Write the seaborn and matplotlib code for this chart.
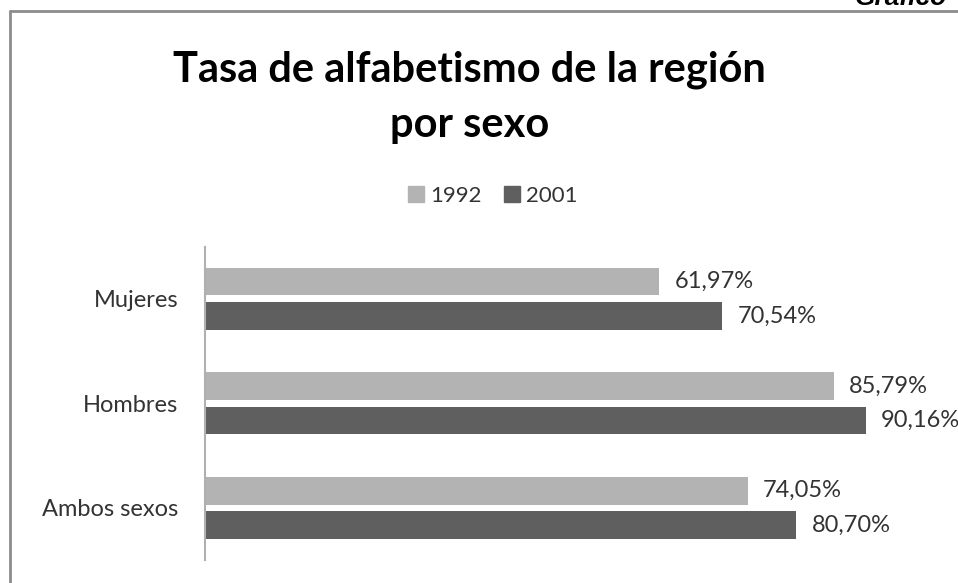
import numpy as np
import pandas as pd
import matplotlib.pyplot as plt
import seaborn as sns
from matplotlib.lines import Line2D

# data
categorias = ["Mujeres", "Hombres", "Ambos sexos"]
anios = ["1992", "2001"]
tasa_1992 = [61.97, 85.79, 74.05]
tasa_2001 = [70.54, 90.16, 80.70]

df = pd.DataFrame({
    "categoria": categorias * 2,
    "anio": [anios[0]] * 3 + [anios[1]] * 3,
    "tasa": tasa_1992 + tasa_2001,
})

sns.set_theme(style="white")
plt.rcParams["font.family"] = ["Lato", "DejaVu Sans"]

fig = plt.figure(figsize=(9.58, 5.83), dpi=100)
ax = fig.add_axes([0.214, 0.039, 0.765, 0.538])

palette = {"1992": "#b3b3b3", "2001": "#5f5f5f"}
sns.barplot(data=df, x="tasa", y="categoria", hue="anio", order=categorias,
            hue_order=anios, palette=palette, width=0.66, gap=0.2,
            orient="h", ax=ax, saturation=1, edgecolor="none")

for cont in ax.containers:
    ax.bar_label(cont, labels=[f"{v:.2f}".replace(".", ",") + "%" for v in cont.datavalues],
                 padding=11, fontsize=17, color="#333333")

ax.set_xlim(0, 100)
ax.set_ylim(2.5, -0.5)
ax.set_xlabel("")
ax.set_ylabel("")
ax.set_xticks([])
ax.tick_params(axis="y", length=0, pad=19, labelsize=17, labelcolor="#333333")
for s in ["top", "right", "bottom"]:
    ax.spines[s].set_visible(False)
ax.spines["left"].set_color("#b0b0b0")
ax.spines["left"].set_linewidth(1.5)

ax.legend_.remove()
handles = [plt.Rectangle((0, 0), 1, 1, color=palette[a]) for a in anios]
fig.legend(handles, anios, loc="center", bbox_to_anchor=(493 / 958, 1 - 196 / 583),
           ncol=2, frameon=False, fontsize=16, handlelength=0.7, handleheight=0.7,
           handletextpad=0.3, columnspacing=1.0, labelcolor="#333333")

fig.text(0.49, 1 - 97 / 583, "Tasa de alfabetismo de la región\npor sexo",
         ha="center", va="center", fontsize=30, fontweight="bold",
         linespacing=1.55, color="black")

# outer chart border (runs off the right and bottom edges)
fig.add_artist(Line2D([10 / 958, 1.0], [1 - 11 / 583] * 2, color="#8c8c8c", lw=2))
fig.add_artist(Line2D([10 / 958] * 2, [0.0, 1 - 11 / 583], color="#8c8c8c", lw=2))

fig.text(947 / 958, 1 - 5 / 583, "Gráfico", ha="right", va="baseline",
         fontsize=19, fontweight="bold", fontstyle="italic",
         family="Liberation Sans", color="black")

fig.savefig("out.png", dpi=100, facecolor="white")
